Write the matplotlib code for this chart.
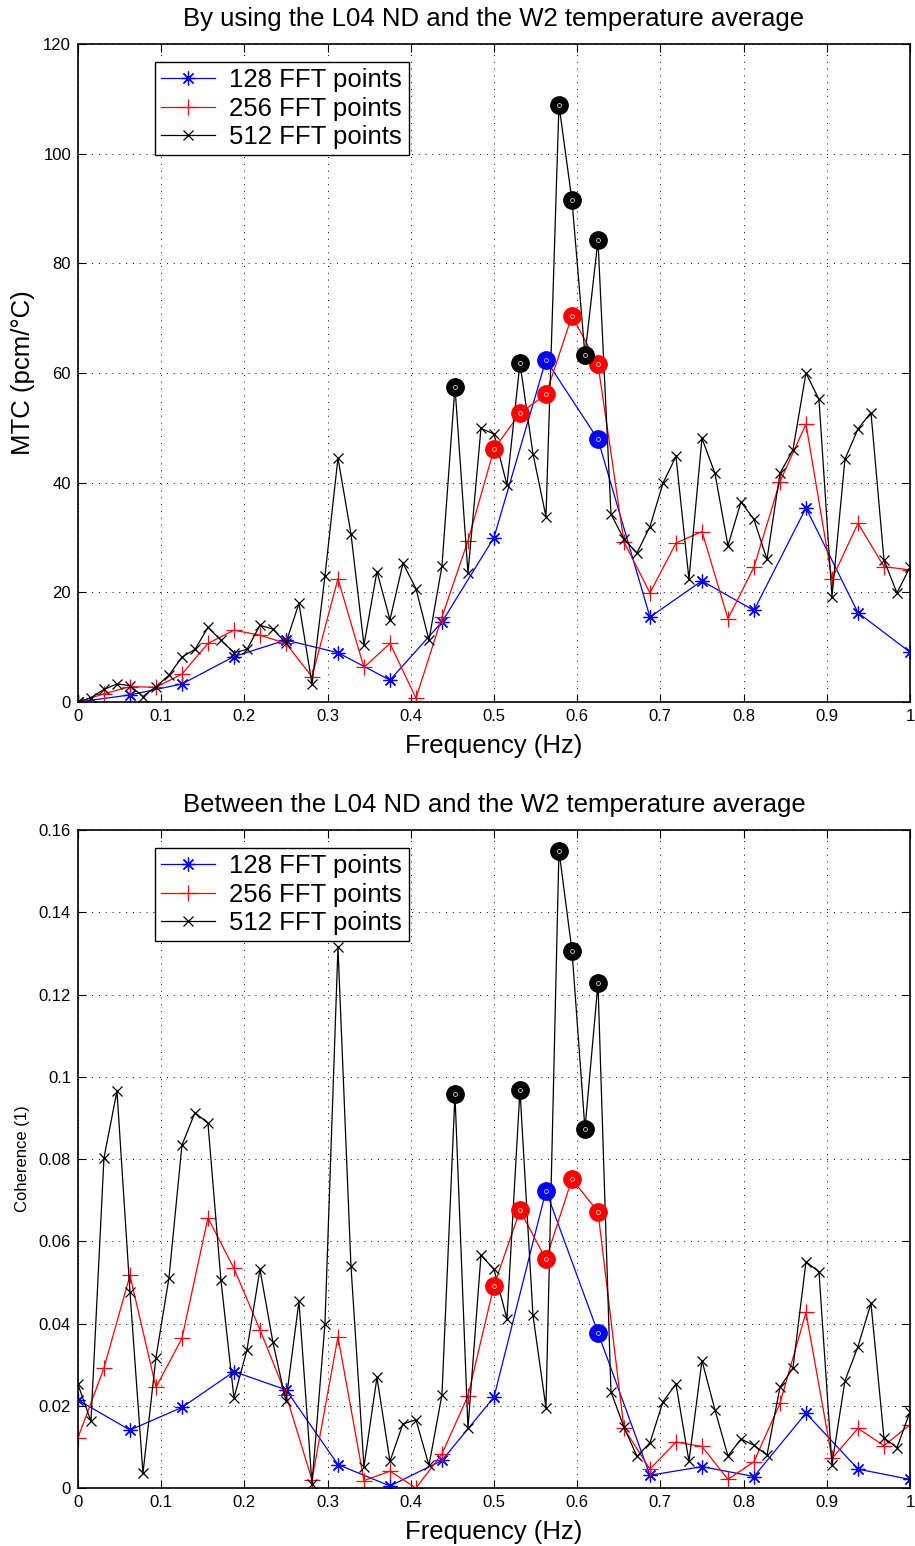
import numpy as np
import matplotlib
matplotlib.use('Agg')
import matplotlib.pyplot as plt

plt.rcParams['font.family'] = ['Liberation Sans', 'DejaVu Sans']

# Data: MTC and coherence for three FFT sizes
labels = ['128 FFT points', '256 FFT points', '512 FFT points']

freq_128 = np.linspace(0, 1, 17)
freq_256 = np.linspace(0, 1, 33)
freq_512 = np.linspace(0, 1, 65)

mtc_128 = [0, 1.3, 3.3, 8.3, 11.3, 9.0, 4.0, 14.6, 30.0, 62.4, 47.9, 15.5,
           22.1, 16.7, 35.4, 16.3, 9.1]
mtc_256 = [0, 1.5, 2.8, 2.7, 5.1, 10.7, 13.1, 12.2, 10.7, 4.6, 22.5, 6.3,
           10.7, 0.7, 15.5, 29.4, 46.1, 52.7, 56.1, 70.4, 61.6, 29.2, 19.9,
           29.0, 31.1, 15.2, 24.6, 40.2, 50.7, 22.4, 32.6, 24.7, 24.1]
mtc_512 = [0, 0.8, 2.3, 3.3, 3.0, 1.0, 2.8, 4.9, 8.2, 9.6, 13.6, 11.3, 9.0,
           9.6, 14.0, 13.3, 10.8, 18.0, 3.3, 23.0, 44.5, 30.7, 10.4, 23.8,
           15.0, 25.3, 20.7, 11.3, 24.8, 57.5, 23.5, 49.9, 48.9, 39.6, 61.8,
           45.3, 33.8, 108.9, 91.5, 63.3, 84.2, 34.3, 29.7, 27.2, 32.0, 39.9,
           44.8, 22.4, 48.1, 41.7, 28.5, 36.5, 33.3, 26.0, 41.7, 46.0, 60.0,
           55.2, 19.2, 44.3, 49.8, 52.8, 25.9, 19.9, 24.6]

coh_128 = [0.0214, 0.0141, 0.0196, 0.0283, 0.0239, 0.0057, 0.0005, 0.0067,
           0.0221, 0.0723, 0.0378, 0.0031, 0.0052, 0.0028, 0.0182, 0.0046,
           0.0021]
coh_256 = [0.0122, 0.0292, 0.0517, 0.0245, 0.0364, 0.0657, 0.0534, 0.0385,
           0.0227, 0.0020, 0.0368, 0.0018, 0.0041, 0.0, 0.0083, 0.0224,
           0.0492, 0.0675, 0.0556, 0.0751, 0.0672, 0.0145, 0.0046, 0.0112,
           0.0101, 0.0021, 0.0064, 0.0206, 0.0427, 0.0072, 0.0145, 0.0103,
           0.0154]
coh_512 = [0.0252, 0.0162, 0.0803, 0.0965, 0.0477, 0.0036, 0.0317, 0.0511,
           0.0834, 0.0913, 0.0887, 0.0505, 0.0219, 0.0336, 0.0532, 0.0354,
           0.0211, 0.0454, 0.0010, 0.0399, 0.1315, 0.0540, 0.0052, 0.0269,
           0.0065, 0.0156, 0.0166, 0.0055, 0.0227, 0.0957, 0.0145, 0.0566,
           0.0532, 0.0411, 0.0968, 0.0420, 0.0195, 0.1550, 0.1307, 0.0873,
           0.1227, 0.0234, 0.0148, 0.0077, 0.0110, 0.0210, 0.0253, 0.0065,
           0.0310, 0.0190, 0.0078, 0.0119, 0.0104, 0.0080, 0.0245, 0.0292,
           0.0550, 0.0526, 0.0057, 0.0261, 0.0344, 0.0449, 0.0122, 0.0098,
           0.0185]

# highlighted (circled) bins for each series
hl_128 = [9, 10]
hl_256 = [16, 17, 18, 19, 20]
hl_512 = [29, 34, 37, 38, 39, 40]

xticks = [0, 0.1, 0.2, 0.3, 0.4, 0.5, 0.6, 0.7, 0.8, 0.9, 1]
xticklabels = ['0', '0.1', '0.2', '0.3', '0.4', '0.5', '0.6', '0.7', '0.8', '0.9', '1']
mtc_ticks = [0, 20, 40, 60, 80, 100, 120]
coh_ticks = [0, 0.02, 0.04, 0.06, 0.08, 0.1, 0.12, 0.14, 0.16]
coh_ticklabels = ['0', '0.02', '0.04', '0.06', '0.08', '0.1', '0.12', '0.14', '0.16']


def draw(ax, ys, title, ylabel, ylab_size, ylim, yticks, yticklabels):
    # matlab-like markers: '*' is + and x overlaid
    specs = [(freq_128, ys[0], hl_128, 'blue', (8, 2, 0), 10),
             (freq_256, ys[1], hl_256, 'red', '+', 12),
             (freq_512, ys[2], hl_512, 'black', 'x', 7.5)]
    for (f, y, hl, c, m, ms), lab in zip(specs, labels):
        ax.plot(f, y, color=c, marker=m, markersize=ms, markeredgewidth=0.9,
                linewidth=0.9, label=lab, zorder=2)
    for f, y, hl, c, m, ms in specs:
        f = np.asarray(f)
        y = np.asarray(y)
        ax.plot(f[hl], y[hl], linestyle='none', marker='o', markersize=12.5,
                color=c, markeredgecolor=c, zorder=3)
        ax.plot(f[hl], y[hl], linestyle='none', marker='o', markersize=2.8,
                markerfacecolor='none', markeredgecolor='white',
                markeredgewidth=0.5, zorder=4)

    ax.set_xlim(0, 1)
    ax.set_ylim(*ylim)
    ax.set_xticks(xticks)
    ax.set_xticklabels(xticklabels)
    ax.set_yticks(yticks)
    ax.set_yticklabels(yticklabels)
    ax.tick_params(direction='in', top=True, right=True, length=6,
                   width=0.8, labelsize=12, pad=5)
    ax.grid(True, linestyle=(0, (1, 6)), color='black', linewidth=0.7)
    for s in ax.spines.values():
        s.set_linewidth(1.2)
    ax.set_title(title, fontsize=18.5, pad=13)
    ax.set_xlabel('Frequency (Hz)', fontsize=18.5, labelpad=7)
    ax.set_ylabel(ylabel, fontsize=ylab_size, labelpad=6)
    leg = ax.legend(loc='upper left', bbox_to_anchor=(0.0925, 0.973),
                    borderaxespad=0, numpoints=1, fontsize=18.5, fancybox=False,
                    framealpha=1, edgecolor='black', handlelength=2.1,
                    borderpad=0.25, labelspacing=0.17, handletextpad=0.55)
    leg.get_frame().set_linewidth(1.0)
    leg.set_zorder(5)


fig = plt.figure(figsize=(9.15, 15.46), dpi=100)
ax1 = fig.add_axes([0.0852, 0.5459, 0.9093, 0.4256])
ax2 = fig.add_axes([0.0852, 0.0375, 0.9093, 0.4256])

draw(ax1, [mtc_128, mtc_256, mtc_512],
     'By using the L04 ND and the W2 temperature average',
     'MTC (pcm/°C)', 18.5, (0, 120), mtc_ticks, [str(t) for t in mtc_ticks])
draw(ax2, [coh_128, coh_256, coh_512],
     'Between the L04 ND and the W2 temperature average',
     'Coherence (1)', 12, (0, 0.16), coh_ticks, coh_ticklabels)

fig.savefig('out.png', dpi=100)
